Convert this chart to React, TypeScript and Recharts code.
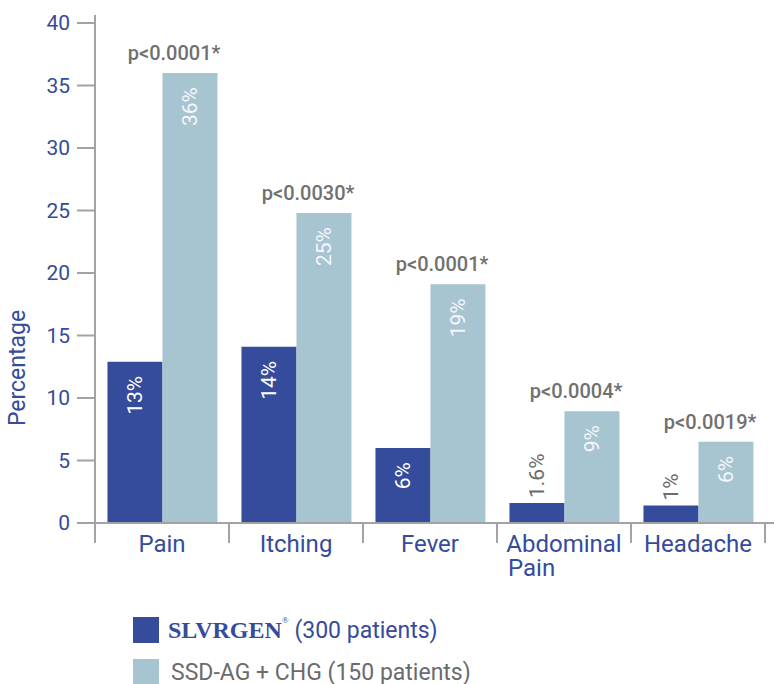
import React from 'react';
import { BarChart, Bar, XAxis, YAxis, Legend, LabelList } from 'recharts';

const categories = ['Pain', 'Itching', 'Fever', 'Abdominal Pain', 'Headache'];
const slvrgenValues = [12.9, 14.1, 6, 1.6, 1.4];
const ssdValues = [36, 24.8, 19.1, 8.95, 6.5];
const slvrgenLabels = ['13%', '14%', '6%', '1.6%', '1%'];
const ssdLabels = ['36%', '25%', '19%', '9%', '6%'];
const pValues = ['p<0.0001*', 'p<0.0030*', 'p<0.0001*', 'p<0.0004*', 'p<0.0019*'];
const yTicks = [0, 5, 10, 15, 20, 25, 30, 35, 40];
const seriesNames = ['SLVRGEN', 'SSD-AG + CHG'];
const seriesPatients = ['(300 patients)', '(150 patients)'];

const DARK = '#354b9b';
const LIGHT = '#a7c4d1';
const AXIS = '#a3a3a3';
const GREY_TEXT = '#6b6b6b';
const FONT = 'Roboto, "Noto Sans", sans-serif';

const data = categories.map((c, i) => ({
  name: c,
  slvrgen: slvrgenValues[i],
  ssd: ssdValues[i],
  slvrgenLabel: slvrgenLabels[i],
  ssdLabel: ssdLabels[i],
  p: pValues[i],
}));

const RotatedLabel = (props: any) => {
  const { x, y, width, height, value, inside } = props;
  const cx = Number(x) + Number(width) / 2 + 7;
  const h = Number(height);
  if (h > 40) {
    const ty = Number(y) + 14;
    return (
      <text x={cx} y={ty} transform={`rotate(-90 ${cx} ${ty})`} textAnchor="end" fill={inside} fontSize={21} fontFamily={FONT}>
        {value}
      </text>
    );
  }
  const ty = Number(y) - 5;
  return (
    <text x={cx} y={ty} transform={`rotate(-90 ${cx} ${ty})`} textAnchor="start" fill={GREY_TEXT} fontSize={21} fontFamily={FONT}>
      {value}
    </text>
  );
};

const PLabel = (props: any) => {
  const { x, y, width, value } = props;
  return (
    <text x={Number(x) + Number(width) + 3} y={Number(y) - 13} textAnchor="end" fill="#707070" fontSize={20} fontWeight={500} fontFamily={FONT}>
      {value}
    </text>
  );
};

const XTick = (props: any) => {
  const { x, y, payload, index, visibleTicksCount, width } = props;
  const band = width && visibleTicksCount ? Number(width) / Number(visibleTicksCount) : 2 * (payload.offset || 67);
  const half = band / 2;
  const words = String(payload.value).split(' ');
  const isLast = index === visibleTicksCount - 1;
  return (
    <g>
      <line x1={x - half} y1={y} x2={x - half} y2={y + 20} stroke={AXIS} strokeWidth={2} />
      {isLast && <line x1={x + half} y1={y} x2={x + half} y2={y + 20} stroke={AXIS} strokeWidth={2} />}
      {isLast && <line x1={x + half} y1={y} x2={x + half + 12} y2={y} stroke={AXIS} strokeWidth={2} />}
      {words.map((w, i) => (
        <text
          key={i}
          x={i === 0 ? x : x - 56}
          y={y + 29 + i * 24}
          textAnchor={i === 0 ? 'middle' : 'start'}
          fill={DARK}
          fontSize={24}
          fontFamily={FONT}
        >
          {w}
        </text>
      ))}
    </g>
  );
};

const YLabel = (props: any) => {
  const vb = props.viewBox || { x: 0, y: 23, width: 95, height: 500 };
  const ax = vb.x + vb.width;
  const lx = vb.x + 17;
  const ly = vb.y + vb.height * 0.69;
  return (
    <g>
      <line x1={ax} y1={vb.y - 8} x2={ax} y2={vb.y + vb.height + 20} stroke={AXIS} strokeWidth={2} />
      <text x={lx} y={ly} transform={`rotate(-90 ${lx} ${ly})`} textAnchor="middle" dominantBaseline="central" fill={DARK} fontSize={23} fontFamily={FONT}>
        Percentage
      </text>
    </g>
  );
};

const renderLegend = (props: any) => {
  const payload = props.payload || [];
  return (
    <div style={{ fontFamily: FONT }}>
      {payload.map((entry: any, i: number) => (
        <div key={i} style={{ display: 'flex', alignItems: 'center', height: 42 }}>
          <div style={{ width: 26, height: 26, background: entry.color, marginRight: i === 0 ? 9 : 12 }} />
          {i === 0 ? (
            <span style={{ color: DARK, fontSize: 23, whiteSpace: 'nowrap' }}>
              <span style={{ fontFamily: '"Liberation Serif", "DejaVu Serif", serif', fontWeight: 700, fontSize: 24 }}>
                {seriesNames[i]}
              </span>
              <sup style={{ fontSize: 9, fontFamily: 'serif', verticalAlign: 'top', position: 'relative', top: -2 }}>®</sup>
              <span> {seriesPatients[i]}</span>
            </span>
          ) : (
            <span style={{ color: GREY_TEXT, fontSize: 23, whiteSpace: 'nowrap' }}>
              {seriesNames[i]} {seriesPatients[i]}
            </span>
          )}
        </div>
      ))}
    </div>
  );
};

export default function App() {
  return (
    <div style={{ position: 'absolute', left: 0, top: 0, width: 774, height: 684, background: '#fff' }}>
      <BarChart
        width={774}
        height={684}
        data={data}
        margin={{ top: 23, right: 9, bottom: 101, left: 0 }}
        barCategoryGap="9.3%"
        barGap={0}
      >
        <XAxis
          dataKey="name"
          tickLine={false}
          tickSize={0}
          tickMargin={0}
          axisLine={{ stroke: AXIS, strokeWidth: 2 }}
          tick={<XTick />}
          interval={0}
          height={60}
        />
        <YAxis
          domain={[0, 40]}
          ticks={yTicks}
          width={95}
          tickSize={18}
          tickMargin={7}
          axisLine={false}
          tickLine={{ stroke: AXIS, strokeWidth: 2 }}
          tick={{ fill: DARK, fontSize: 21, fontFamily: FONT }}
          label={<YLabel />}
          interval={0}
        />
        <Legend
          layout="vertical"
          verticalAlign="middle"
          align="center"
          content={renderLegend}
          wrapperStyle={{ position: 'absolute', left: 133, top: 609, width: 500, height: 75 }}
        />
        <Bar dataKey="slvrgen" name={seriesNames[0]} fill={DARK} isAnimationActive={false}>
          <LabelList dataKey="slvrgenLabel" content={<RotatedLabel inside="#ffffff" />} />
        </Bar>
        <Bar dataKey="ssd" name={seriesNames[1]} fill={LIGHT} isAnimationActive={false}>
          <LabelList dataKey="ssdLabel" content={<RotatedLabel inside="#f4f7f9" />} />
          <LabelList dataKey="p" content={<PLabel />} />
        </Bar>
      </BarChart>
    </div>
  );
}
